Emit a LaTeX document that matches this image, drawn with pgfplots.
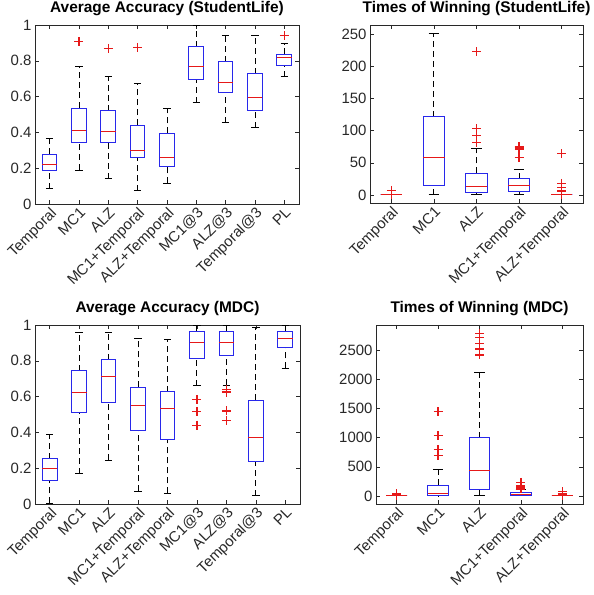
\documentclass[border=0pt]{standalone}
\usepackage{fontspec}
\setmainfont{Liberation Sans}
\usepackage{pgfplots}
\pgfplotsset{compat=1.18}
\usepgfplotslibrary{statistics}
\definecolor{mblue}{RGB}{40,40,235}
\definecolor{mred}{RGB}{230,25,25}
\definecolor{axgray}{RGB}{40,40,40}

\pgfplotsset{
  mbox/.style={
    scale only axis,
    tick align=inside,
    major tick length=4bp,
    axis line style={axgray, line width=0.6bp},
    every tick/.style={axgray, line width=0.5bp},
    tick label style={font=\fontsize{15}{17}\selectfont, text=axgray},
    /pgf/number format/assume math mode=true,
    /pgf/number format/1000 sep={},
    scaled y ticks=false,
    xticklabel style={rotate=45, anchor=north east, inner sep=1.5bp},
    title style={font=\bfseries\fontsize{15.5}{17}\selectfont, at={(0.5,1)}, anchor=south, inner sep=3bp},
    boxplot/draw direction=y,
    boxplot/box extend=0.5,
    boxplot/whisker extend=0.25,
    boxplot/every box/.style={draw=mblue, line width=1bp},
    boxplot/every median/.style={draw=mred, line width=1bp},
    boxplot/draw/lower whisker/.code={%
      \draw[black, dash pattern=on 6bp off 4bp, line width=0.9bp]
        (boxplot box cs:\pgfplotsboxplotvalue{lower whisker},0.5) --
        (boxplot box cs:\pgfplotsboxplotvalue{lower quartile},0.5);
      \draw[black, line width=0.9bp]
        (boxplot whisker cs:\pgfplotsboxplotvalue{lower whisker},0) --
        (boxplot whisker cs:\pgfplotsboxplotvalue{lower whisker},1);
    },
    boxplot/draw/upper whisker/.code={%
      \draw[black, dash pattern=on 6bp off 4bp, line width=0.9bp]
        (boxplot box cs:\pgfplotsboxplotvalue{upper quartile},0.5) --
        (boxplot box cs:\pgfplotsboxplotvalue{upper whisker},0.5);
      \draw[black, line width=0.9bp]
        (boxplot whisker cs:\pgfplotsboxplotvalue{upper whisker},0) --
        (boxplot whisker cs:\pgfplotsboxplotvalue{upper whisker},1);
    },
  },
  out/.style={mark=+, mark size=4.5bp, mark options={color=mred, solid, line width=1.3bp}},
  noout/.style={mark=+, mark size=0.01bp, mark options={draw opacity=0, fill opacity=0}},
}

% box with outliers: position, lw, lq, med, uq, uw, outlier coordinates
\newcommand{\bx}[7]{\addplot[mblue, out, boxplot prepared={draw position=#1,
  lower whisker=#2, lower quartile=#3, median=#4, upper quartile=#5, upper whisker=#6}]
  coordinates {#7};}
% box without outliers
\newcommand{\bxn}[6]{\addplot[mblue, noout, boxplot prepared={draw position=#1,
  lower whisker=#2, lower quartile=#3, median=#4, upper quartile=#5, upper whisker=#6}]
  coordinates {(#1,#4)};}

\begin{document}
\begin{tikzpicture}
\path[use as bounding box] (0,0) rectangle (594bp,595bp);

% top left
\begin{axis}[mbox, at={(35bp,391bp)}, anchor=south west,
  width=264bp, height=179bp,
  xmin=0.5, xmax=9.5, ymin=0, ymax=1,
  ytick={0,0.2,0.4,0.6,0.8,1},
  xtick={1,...,9},
  xticklabels={Temporal,MC1,ALZ,MC1+Temporal,ALZ+Temporal,MC1@3,ALZ@3,Temporal@3,PL},
  title={Average Accuracy (StudentLife)}]
\bxn{1}{0.086}{0.186}{0.223}{0.278}{0.367}
\bx{2}{0.19}{0.345}{0.41}{0.535}{0.767}{(2,0.907)}
\bx{3}{0.141}{0.345}{0.404}{0.52}{0.71}{(3,0.87)}
\bx{4}{0.073}{0.26}{0.30}{0.44}{0.674}{(4,0.875)}
\bxn{5}{0.115}{0.21}{0.26}{0.395}{0.535}
\bxn{6}{0.566}{0.694}{0.767}{0.879}{1.0}
\bxn{7}{0.454}{0.624}{0.68}{0.795}{0.939}
\bxn{8}{0.425}{0.525}{0.597}{0.728}{0.939}
\bx{9}{0.711}{0.775}{0.821}{0.836}{0.896}{(9,0.94)}
\end{axis}

% top right
\begin{axis}[mbox, at={(370bp,392bp)}, anchor=south west,
  width=213bp, height=178bp,
  xmin=0.5, xmax=5.5, ymin=-12.6, ymax=264.6,
  ytick={0,50,100,150,200,250},
  xtick={1,...,5},
  xticklabels={Temporal,MC1,ALZ,MC1+Temporal,ALZ+Temporal},
  title={Times of Winning (StudentLife)}]
\bx{1}{0}{0}{0}{0}{0}{(1,1) (1,7)}
\bxn{2}{0}{14.9}{57.8}{121.6}{252}
\bx{3}{0}{3.5}{13}{33.7}{72}{(3,82) (3,92.5) (3,103) (3,223)}
\bx{4}{0}{5.6}{14.5}{25}{40}{(4,58) (4,71) (4,73) (4,75)}
\bx{5}{0}{0}{0}{0}{0}{(5,1) (5,6) (5,12) (5,18) (5,64)}
\end{axis}

% bottom left
\begin{axis}[mbox, at={(35bp,91bp)}, anchor=south west,
  width=265bp, height=179bp,
  xmin=0.5, xmax=9.5, ymin=0, ymax=1,
  ytick={0,0.2,0.4,0.6,0.8,1},
  xtick={1,...,9},
  xticklabels={Temporal,MC1,ALZ,MC1+Temporal,ALZ+Temporal,MC1@3,ALZ@3,Temporal@3,PL},
  title={Average Accuracy (MDC)}]
\bxn{1}{0.003}{0.131}{0.196}{0.252}{0.39}
\bxn{2}{0.168}{0.51}{0.623}{0.745}{0.961}
\bxn{3}{0.245}{0.568}{0.713}{0.806}{0.961}
\bxn{4}{0.07}{0.413}{0.55}{0.651}{0.924}
\bxn{5}{0.06}{0.36}{0.534}{0.627}{0.922}
\bx{6}{0.66}{0.813}{0.902}{0.965}{1.0}{(6,0.585) (6,0.517) (6,0.44)}
\bx{7}{0.665}{0.828}{0.905}{0.961}{0.997}{(7,0.64) (7,0.625) (7,0.52) (7,0.465)}
\bxn{8}{0.046}{0.238}{0.372}{0.58}{0.985}
\bxn{9}{0.758}{0.877}{0.925}{0.965}{1.0}
\end{axis}

% bottom right
\begin{axis}[mbox, at={(376bp,91bp)}, anchor=south west,
  width=207bp, height=179bp,
  xmin=0.5, xmax=5.5, ymin=-140, ymax=2940,
  ytick={0,500,1000,1500,2000,2500},
  xtick={1,...,5},
  xticklabels={Temporal,MC1,ALZ,MC1+Temporal,ALZ+Temporal},
  title={Times of Winning (MDC)}]
\bx{1}{0}{0}{0}{0}{0}{(1,5) (1,20) (1,40)}
\bx{2}{0}{5}{40}{185}{447}{(2,697) (2,794) (2,1037) (2,1451)}
\bx{3}{0}{102}{430}{998}{2131}{(3,2426) (3,2528) (3,2624) (3,2726) (3,2794)}
\bx{4}{0}{8}{20}{50}{110}{(4,120) (4,130) (4,140) (4,150) (4,160) (4,170) (4,180) (4,230)}
\bx{5}{0}{0}{0}{0}{0}{(5,10) (5,25) (5,45) (5,70)}
\end{axis}
\end{tikzpicture}
\end{document}
